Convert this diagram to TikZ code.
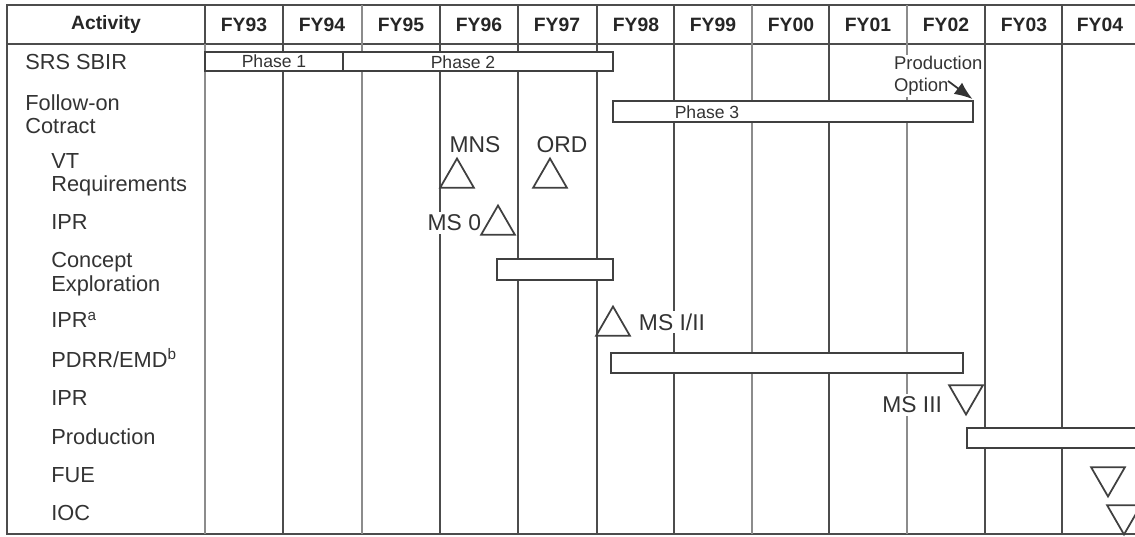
\documentclass[tikz,border=0pt]{standalone}
\usepackage{fontspec}
\setmainfont{Liberation Sans}
\usetikzlibrary{positioning,arrows.meta,fit,shapes.geometric,backgrounds}

\begin{document}
\begin{tikzpicture}[x=0.02cm, y=-0.02cm, >={Latex[length=3.6mm,width=2.8mm]},
  grid/.style={draw=black!70, line width=1pt},
  faint/.style={draw=black!45, line width=0.8pt},
  hdr/.style={font=\fontsize{11}{13}\selectfont\bfseries, text=black!85},
  act/.style={font=\fontsize{12.4}{13.3}\selectfont, text=black!80, align=left, anchor=west, inner sep=0pt},
  phase/.style={font=\fontsize{10}{11}\selectfont, text=black!80, inner sep=0pt},
  bar/.style={draw=black!75, line width=1pt, fill=white, inner sep=0pt},
  ms/.style={font=\fontsize{13}{14}\selectfont, text=black!80, inner sep=1.5pt, fill=white},
  msup/.style={draw=black!75, line width=1pt, fill=white, regular polygon, regular polygon sides=3, minimum size=0.78cm, inner sep=0pt},
  msdown/.style={msup, shape border rotate=180},
  note/.style={font=\fontsize{10.5}{12.5}\selectfont, text=black!80, align=left, anchor=west, inner sep=1pt, fill=white}]
\useasboundingbox (0,0) rectangle (1135,537);
% header
\node[hdr] (hact) at (106,25) {Activity};
\foreach \yr/\x in {93/244,94/322,95/401,96/479,97/557,98/636,99/713,00/791,01/868,02/946,03/1024,04/1100}
  \node[hdr] (fy\yr) at (\x,25) {FY\yr};
% activities
\node[act] (srs) at (25,62) {SRS SBIR};
\node[act] (foc) at (25,114) {Follow-on\\Cotract};
\node[act] (vtr) at (51,175) {VT\\Requirements};
\node[act] (ipr0) at (51,222) {IPR};
\node[act] (cex) at (51,274) {Concept\\Exploration};
\node[act] (ipra) at (51,320) {IPR\textsuperscript{a}};
\node[act] (pdrr) at (51,358) {PDRR/EMD\textsuperscript{b}};
\node[act] (ipr3) at (51,398) {IPR};
\node[act] (prod) at (51,437) {Production};
\node[act] (fue) at (51,475) {FUE};
\node[act] (ioc) at (51,513) {IOC};
% bars
\node[bar, fit={(205,52) (343,71)}] (ph1) {};
\node[bar, fit={(343,52) (613,71)}] (ph2) {};
\node[bar, fit={(613,101) (973,122)}] (ph3) {};
\node[bar, fit={(497,259) (613,280)}] (cebar) {};
\node[bar, fit={(611,353) (963,373)}] (pdbar) {};
\node[bar, fit={(967,428) (1150,448)}] (prbar) {};
\node[phase] (ph1txt) at (ph1) {Phase 1};
\node[phase] (ph2txt) at (463,62) {Phase 2};
\node[phase] (ph3txt) at (707,112) {Phase 3};
% milestones
\node[ms] (lmns) at (475,145) {MNS};
\node[ms] (lord) at (562,145) {ORD};
\node[ms, anchor=east] (lms0) at (484,223) {MS 0};
\node[ms, anchor=west] (lms12) at (636,322) {MS I/II};
\node[ms, anchor=east] (lms3) at (945,405) {MS III};
\node[msup] (mns) at (457,178) {};
\node[msup] (ord) at (550,178) {};
\node[msup] (ms0) at (498,225) {};
\node[msup] (ms12) at (613,326) {};
\node[msdown] (ms3) at (966,395) {};
\node[msdown] (fuem) at (1108,477) {};
\node[msdown] (iocm) at (1124,515) {};
% production option
\node[note] (popt) at (892,76) {Production\\Option};
\coordinate (poptend) at (948,81);
\draw[->, black!80, line width=1pt, shorten >=1pt] (poptend) -- (ph3.north east);
% frame and year columns, behind everything
\begin{scope}[on background layer]
\draw[grid] (1135,5) -- (7,5) -- (7,534) -- (1135,534);
\draw[grid] (7,44) -- (1135,44);
\foreach \x in {283,440,518,597,674,829,985,1062}
  \draw[grid] (\x,5) -- (\x,534);
\foreach \x in {205,362,752,907}
  \draw[faint] (\x,5) -- (\x,534);
\draw[grid] (205,5) -- (205,44);
\end{scope}
\end{tikzpicture}
\end{document}
